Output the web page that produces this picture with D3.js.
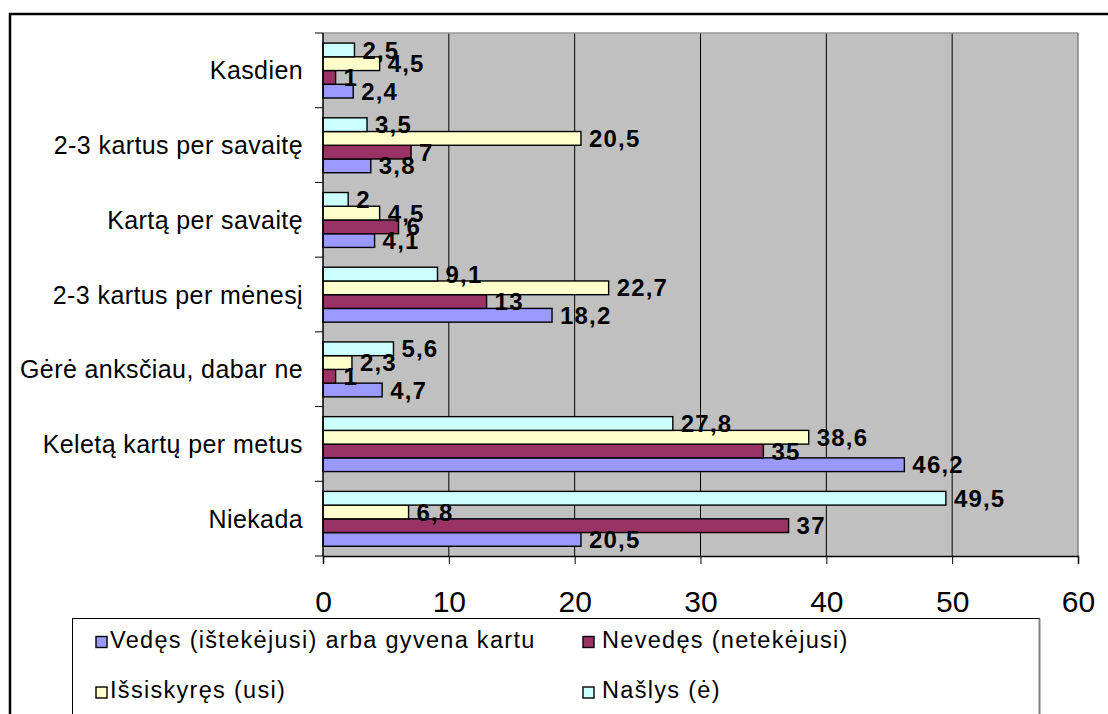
<!DOCTYPE html>
<html>
<head>
<meta charset="utf-8">
<script src="https://cdn.jsdelivr.net/npm/d3@7"></script>
<style>
  html, body { margin: 0; padding: 0; background: #fff; }
  svg { display: block; font-family: "Liberation Sans", Arial, sans-serif; }
</style>
</head>
<body>
<svg id="chart" width="1108" height="714"></svg>
<script>
// Categories, listed top to bottom as they appear on the axis
const categories = [
  "Kasdien",
  "2-3 kartus per savaitę",
  "Kartą per savaitę",
  "2-3 kartus per mėnesį",
  "Gėrė anksčiau, dabar ne",
  "Keletą kartų per metus",
  "Niekada"
];

// Series names (legend order)
const seriesNames = [
  "Vedęs (ištekėjusi) arba gyvena kartu",
  "Nevedęs (netekėjusi)",
  "Išsiskyręs (usi)",
  "Našlys (ė)"
];

// Values per series, in the category order above
const vedes      = [2.4, 3.8, 4.1, 18.2, 4.7, 46.2, 20.5];
const nevedes    = [1, 7, 6, 13, 1, 35, 37];
const issiskyres = [4.5, 20.5, 4.5, 22.7, 2.3, 38.6, 6.8];
const naslys     = [2.5, 3.5, 2, 9.1, 5.6, 27.8, 49.5];

const xTicks = [0, 10, 20, 30, 40, 50, 60];

const seriesValues = [vedes, nevedes, issiskyres, naslys];
const colors = ["#9999FF", "#993366", "#FFFFCC", "#CCFFFF"];

const svg = d3.select("#chart");

// Outer chart frame
svg.append("rect")
  .attr("x", 10).attr("y", 14)
  .attr("width", 1300).attr("height", 900)
  .attr("fill", "#fff").attr("stroke", "#000").attr("stroke-width", 2.5);

const plot = { left: 323, right: 1078, top: 33, bottom: 556 };

const x = d3.scaleLinear().domain([0, 60]).range([plot.left, plot.right]);
const y0 = d3.scaleBand().domain(categories).range([plot.top, plot.bottom]).padding(0);
// Within each category: top bar is the last series, bottom bar the first
const innerOrder = [3, 2, 1, 0];
const bw = y0.bandwidth();
const y1 = d3.scaleBand().domain(innerOrder).range([bw * 0.135, bw * 0.87]).padding(0);

// Plot background
svg.append("rect")
  .attr("x", plot.left).attr("y", plot.top)
  .attr("width", plot.right - plot.left).attr("height", plot.bottom - plot.top)
  .attr("fill", "#C0C0C0");

// Vertical gridlines
svg.append("g")
  .selectAll("line")
  .data(xTicks.filter(t => t > 0 && t < 60))
  .join("line")
  .attr("x1", d => x(d)).attr("x2", d => x(d))
  .attr("y1", plot.top).attr("y2", plot.bottom)
  .attr("stroke", "#000").attr("stroke-width", 1);

// Plot border: top and right in grey
svg.append("line")
  .attr("x1", plot.left).attr("x2", plot.right)
  .attr("y1", plot.top).attr("y2", plot.top)
  .attr("stroke", "#999").attr("stroke-width", 1.5);
svg.append("line")
  .attr("x1", plot.right).attr("x2", plot.right)
  .attr("y1", plot.top).attr("y2", plot.bottom)
  .attr("stroke", "#808080").attr("stroke-width", 1.5);

// Bars
const rows = [];
categories.forEach((c, ci) => {
  seriesValues.forEach((vals, si) => {
    rows.push({ cat: c, s: si, v: vals[ci] });
  });
});

svg.append("g")
  .selectAll("rect")
  .data(rows)
  .join("rect")
  .attr("x", x(0))
  .attr("y", d => y0(d.cat) + y1(d.s))
  .attr("width", d => x(d.v) - x(0))
  .attr("height", y1.bandwidth())
  .attr("fill", d => colors[d.s])
  .attr("stroke", "#000")
  .attr("stroke-width", 1.4);

// Y axis (category) with ticks at band boundaries
const yAxis = svg.append("g");
yAxis.append("line")
  .attr("x1", plot.left).attr("x2", plot.left)
  .attr("y1", plot.top).attr("y2", plot.bottom)
  .attr("stroke", "#000").attr("stroke-width", 1.5);
const bounds = categories.map(c => y0(c)).concat([plot.bottom]);
yAxis.selectAll("line.tick")
  .data(bounds)
  .join("line")
  .attr("class", "tick")
  .attr("x1", plot.left - 8).attr("x2", plot.left)
  .attr("y1", d => d).attr("y2", d => d)
  .attr("stroke", "#000").attr("stroke-width", 1);
yAxis.selectAll("text")
  .data(categories)
  .join("text")
  .attr("x", 303)
  .attr("y", d => y0(d) + bw / 2)
  .attr("dy", "0.36em")
  .attr("text-anchor", "end")
  .attr("font-size", 25)
  .attr("letter-spacing", 0.4)
  .attr("fill", "#000")
  .text(d => d);

// X axis
const xAxis = svg.append("g")
  .attr("transform", `translate(0,${plot.bottom})`)
  .call(d3.axisBottom(x).tickValues(xTicks).tickSize(8).tickPadding(0).tickFormat(d3.format("d")));
xAxis.select(".domain").attr("stroke", "#000").attr("stroke-width", 1.5);
xAxis.selectAll(".tick line").attr("stroke", "#000").attr("stroke-width", 1);
xAxis.selectAll(".tick text")
  .attr("font-family", "Liberation Sans, Arial, sans-serif")
  .attr("font-size", 30)
  .attr("fill", "#000")
  .attr("y", 56)
  .attr("dy", 0);

// Value labels
const fmt = v => String(v).replace(".", ",");
svg.append("g")
  .selectAll("text")
  .data(rows)
  .join("text")
  .attr("x", d => x(d.v) + 8)
  .attr("y", d => y0(d.cat) + y1(d.s) + y1.bandwidth() / 2)
  .attr("dy", "0.36em")
  .attr("font-size", 24)
  .attr("font-weight", "bold")
  .attr("letter-spacing", 1.2)
  .attr("fill", "#000")
  .text(d => fmt(d.v));

// Legend
const legend = svg.append("g");
legend.append("rect")
  .attr("x", 72.5).attr("y", 618.5)
  .attr("width", 1039.5 - 72.5).attr("height", 200)
  .attr("fill", "#fff").attr("stroke", "#000").attr("stroke-width", 1);
legend.append("line")
  .attr("x1", 1039.5).attr("x2", 1039.5)
  .attr("y1", 618.5).attr("y2", 714)
  .attr("stroke", "#808080").attr("stroke-width", 2);

const legendPos = [
  { sx: 96, tx: 110, y: 647.5 },
  { sx: 583, tx: 602, y: 647.5 },
  { sx: 96, tx: 110, y: 698 },
  { sx: 583, tx: 602, y: 698 }
];
const items = legend.selectAll("g.item")
  .data(seriesNames)
  .join("g")
  .attr("class", "item");
items.append("rect")
  .attr("x", (d, i) => legendPos[i].sx)
  .attr("y", (d, i) => legendPos[i].y - 11)
  .attr("width", 11).attr("height", 11)
  .attr("fill", (d, i) => colors[i])
  .attr("stroke", "#000").attr("stroke-width", 1.4);
items.append("text")
  .attr("x", (d, i) => legendPos[i].tx)
  .attr("y", (d, i) => legendPos[i].y)
  .attr("font-size", 23.5)
  .attr("letter-spacing", 1.3)
  .attr("fill", "#000")
  .text(d => d);
</script>
</body>
</html>
